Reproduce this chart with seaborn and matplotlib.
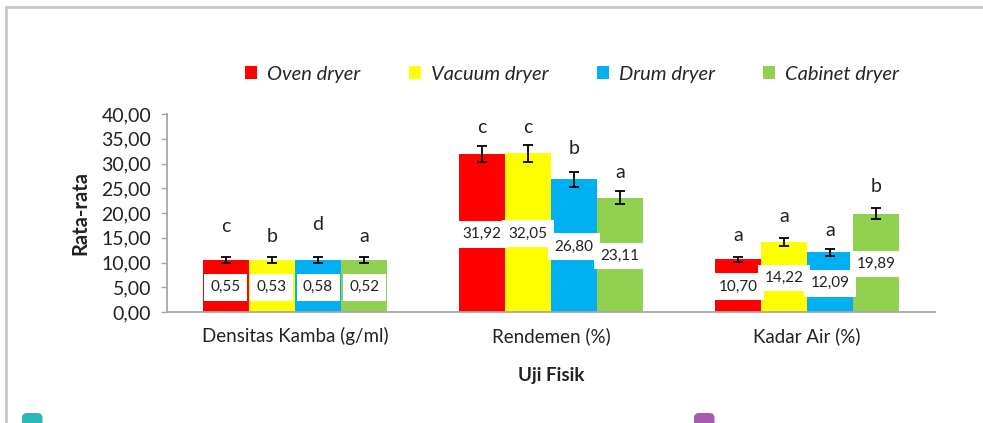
import matplotlib
matplotlib.use("Agg")
import matplotlib.pyplot as plt
import seaborn as sns
import pandas as pd
from matplotlib.ticker import FuncFormatter, MultipleLocator
from matplotlib.lines import Line2D
from matplotlib.patches import FancyBboxPatch

categories = ["Densitas Kamba (g/ml)", "Rendemen (%)", "Kadar Air (%)"]
methods = ["Oven dryer", "Vacuum dryer", "Drum dryer", "Cabinet dryer"]

# bar heights as drawn (density bars are drawn at the same height in the source)
oven = [10.50, 31.92, 10.70]
vacuum = [10.50, 32.05, 14.22]
drum = [10.50, 26.80, 12.09]
cabinet = [10.50, 23.11, 19.89]

# labels printed inside the bars
oven_lbl = ["0,55", "31,92", "10,70"]
vacuum_lbl = ["0,53", "32,05", "14,22"]
drum_lbl = ["0,58", "26,80", "12,09"]
cabinet_lbl = ["0,52", "23,11", "19,89"]

oven_err = [0.6, 1.7, 0.5]
vacuum_err = [0.6, 1.7, 0.8]
drum_err = [0.6, 1.45, 0.7]
cabinet_err = [0.6, 1.3, 1.1]

oven_sig = ["c", "c", "a"]
vacuum_sig = ["b", "c", "a"]
drum_sig = ["d", "b", "a"]
cabinet_sig = ["a", "a", "b"]

colors = ["#FF0000", "#FFFF00", "#00B0F0", "#92D050"]
FONT = "Lato"


def comma_fmt(v, pos):
    return f"{v:.2f}".replace(".", ",")


def main():
    sns.set_style("white")
    plt.rcParams["font.family"] = [FONT, "DejaVu Sans"]

    heights = [oven, vacuum, drum, cabinet]
    labels = [oven_lbl, vacuum_lbl, drum_lbl, cabinet_lbl]
    errs = [oven_err, vacuum_err, drum_err, cabinet_err]
    sigs = [oven_sig, vacuum_sig, drum_sig, cabinet_sig]

    rows = []
    for m, h in zip(methods, heights):
        for c, v in zip(categories, h):
            rows.append({"uji": c, "metode": m, "nilai": v})
    df = pd.DataFrame(rows)

    fig = plt.figure(figsize=(9.83, 4.23), dpi=100)
    ax = fig.add_axes([0.1699, 0.2624, 0.7813, 0.4681])

    sns.barplot(
        data=df, x="uji", y="nilai", hue="metode",
        order=categories, hue_order=methods,
        palette=colors, saturation=1, width=0.72, gap=0,
        errorbar=None, linewidth=0, ax=ax,
    )

    # extra gap between the error bar top and the letter, per bar
    sig_gap = [
        [6.1, 3.6, 4.2],
        [4.1, 3.6, 4.2],
        [6.5, 4.85, 3.6],
        [4.1, 3.7, 4.3],
    ]

    bar_conts = list(ax.containers)
    for i, cont in enumerate(bar_conts):
        for j, bar in enumerate(cont.patches):
            xc = bar.get_x() + bar.get_width() / 2
            h = bar.get_height()
            ax.errorbar(xc, h, yerr=errs[i][j], fmt="none", ecolor="black",
                        elinewidth=1.3, capsize=3.5, capthick=1.3, zorder=4)
            ax.text(xc, h / 2 - 0.25, labels[i][j], ha="center", va="center",
                    fontsize=11, color="#222222", zorder=5,
                    bbox=dict(boxstyle="square,pad=0.42", fc="white", ec="none"))
            ax.text(xc, h + errs[i][j] + sig_gap[i][j], sigs[i][j],
                    ha="center", va="center", fontsize=14, color="#222222")

    ax.set_ylim(0, 40)
    ax.set_xlim(-0.5, 2.5)
    ax.yaxis.set_major_locator(MultipleLocator(5))
    ax.yaxis.set_major_formatter(FuncFormatter(comma_fmt))

    sns.despine(ax=ax)
    for s in ["left", "bottom"]:
        ax.spines[s].set_color("#a6a6a6")
        ax.spines[s].set_linewidth(1.3)

    ax.tick_params(axis="y", length=4, width=1, color="#a6a6a6", pad=7.5,
                   labelsize=14, labelcolor="#222222", left=True)
    ax.tick_params(axis="x", length=0, pad=11, labelsize=13.5, labelcolor="#222222")

    ax.set_xlabel("Uji Fisik", fontsize=13.5, fontweight="bold", color="#222222")
    ax.xaxis.set_label_coords(0.5, -0.28)
    ax.set_ylabel("Rata-rata", fontsize=14.5, fontweight="bold", color="#222222")
    ax.yaxis.set_label_coords(-0.100, 0.5)

    handles, leg_labels = ax.get_legend_handles_labels()
    ax.legend(
        handles, leg_labels, loc="center", bbox_to_anchor=(0.582, 0.825),
        bbox_transform=fig.transFigure, ncol=4, frameon=False,
        handlelength=0.6, handleheight=0.6, handletextpad=0.5,
        columnspacing=2.4, prop={"family": FONT, "style": "italic", "size": 14.5},
    )

    # outer frame (top and left edges only visible)
    fig.add_artist(Line2D([0.0061, 0.0061], [0, 0.983], color="#c8c8c8", lw=2,
                          transform=fig.transFigure))
    fig.add_artist(Line2D([0.0061, 1.0], [0.983, 0.983], color="#c8c8c8", lw=2,
                          transform=fig.transFigure))

    # cut-off badges at the bottom (inch units so the corners stay round)
    for x0, col in [(0.22, "#2cb7b9"), (6.94, "#a65bb1")]:
        fig.add_artist(FancyBboxPatch(
            (x0, -0.3), 0.205, 0.40,
            boxstyle="round,pad=0,rounding_size=0.05",
            fc=col, ec="none", transform=fig.dpi_scale_trans))

    fig.savefig("out.png", dpi=100)
    plt.close(fig)


if __name__ == "__main__":
    main()
